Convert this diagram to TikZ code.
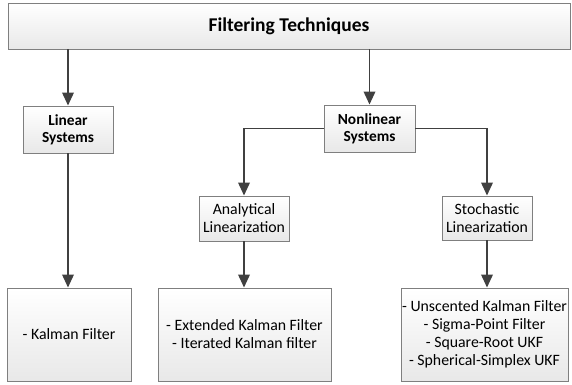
\documentclass[tikz,border=0pt]{standalone}
\usepackage{fontspec}
\setmainfont{Carlito}
\usetikzlibrary{arrows.meta}
\definecolor{linecol}{HTML}{404040}
\definecolor{boxline}{HTML}{7F7F7F}
\begin{document}
\begin{tikzpicture}[x=1pt,y=-1pt,
  box/.style={draw=boxline,line width=0.9pt,top color=white,bottom color=black!9,
    rectangle,align=center,inner sep=0pt,font=\fontsize{15.8}{18}\selectfont},
  bbox/.style={box,font=\fontsize{15.4}{17}\selectfont\bfseries},
  conn/.style={draw=linecol,line width=1.9pt,-{Triangle[width=11.5pt,length=13pt]}}]
\useasboundingbox (0,0) rectangle (572,384);
\node[box,minimum width=562pt,minimum height=46pt,font=\fontsize{19.5}{22}\selectfont\bfseries] (top) at (289,26) {Filtering Techniques};
\node[bbox,minimum width=90pt,minimum height=47pt] (lin) at (68,129.5) {Linear\\Systems};
\node[bbox,minimum width=91pt,minimum height=47pt] (non) at (369.5,128.5) {Nonlinear\\Systems};
\node[box,minimum width=90pt,minimum height=45pt] (ana) at (244,218.5) {Analytical\\Linearization};
\node[box,minimum width=90pt,minimum height=44pt] (sto) at (487,218) {Stochastic\\Linearization};
\node[box,minimum width=124pt,minimum height=93pt] (kal) at (69,334.5) {- Kalman Filter};
\node[box,minimum width=173pt,minimum height=93pt] (ekf) at (244.5,334.5) {- Extended Kalman Filter\\- Iterated Kalman filter};
\node[box,minimum width=167pt,minimum height=93pt] (ukf) at (484.5,334.5) {- Unscented Kalman Filter\\- Sigma-Point Filter\\- Square-Root UKF\\- Spherical-Simplex UKF};
\draw[conn] (top.south -| lin.north) -- (lin.north);
\draw[conn] (top.south -| non.north) -- (non.north);
\draw[conn] (non.west) -| (ana.north);
\draw[conn] (non.east) -| (sto.north);
\draw[conn] (lin.south) -- (lin.south |- kal.north);
\draw[conn] (ana.south) -- (ana.south |- ekf.north);
\draw[conn] (sto.south) -- (sto.south |- ukf.north);
\end{tikzpicture}
\end{document}
